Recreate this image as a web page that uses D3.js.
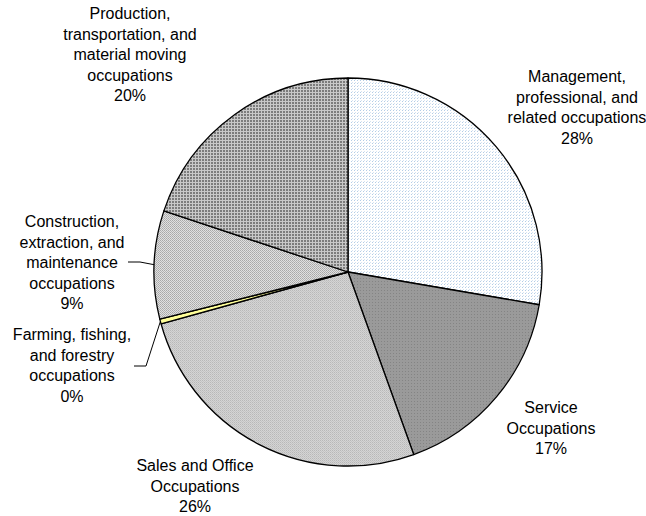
<!DOCTYPE html>
<html>
<head>
<meta charset="utf-8">
<script src="https://cdn.jsdelivr.net/npm/d3@7"></script>
<style>
  body { margin: 0; background: #fff; }
  svg { display: block; }
  text { font-family: "Liberation Sans", Arial, sans-serif; font-size: 16px; fill: #000; }
</style>
</head>
<body>
<svg width="646" height="516"></svg>
<script>
// data (percent of total)
var categories = [
    "Management, professional, and related occupations",
    "Service Occupations",
    "Sales and Office Occupations",
    "Farming, fishing, and forestry occupations",
    "Construction, extraction, and maintenance occupations",
    "Production, transportation, and material moving occupations"
];
var values = [27.7, 16.8, 26.2, 0.4, 9.0, 19.9];
var shownPercent = ["28%", "17%", "26%", "0%", "9%", "20%"];
var labelLines = [
    ["Management,", "professional, and", "related occupations"],
    ["Service", "Occupations"],
    ["Sales and Office", "Occupations"],
    ["Farming, fishing,", "and forestry", "occupations"],
    ["Construction,", "extraction, and", "maintenance", "occupations"],
    ["Production,", "transportation, and", "material moving", "occupations"]
];

// layout (where each label block sits, first baseline)
var labelPos = [
    {x: 577, y: 82},
    {x: 551, y: 413},
    {x: 195, y: 471},
    {x: 72, y: 340},
    {x: 72, y: 227},
    {x: 130, y: 19}
];
// leader lines: elbow and end for the labels that have one
var leaders = [null, null, null,
    {elbow: [146, 366], end: [134, 366]},
    {elbow: [140, 262], end: [128, 262]},
    null];

var svg = d3.select("svg"),
    cx = 348, cy = 272, radius = 194, lineH = 20.5;

// fill patterns, one per slice
var defs = svg.append("defs");

var p0 = defs.append("pattern").attr("id", "pat0").attr("patternUnits", "userSpaceOnUse")
    .attr("width", 3).attr("height", 3);
p0.append("rect").attr("width", 3).attr("height", 3).attr("fill", "#ffffff");
p0.append("rect").attr("width", 1).attr("height", 1).attr("fill", "#b4cde6");
p0.append("rect").attr("x", 1).attr("y", 2).attr("width", 1).attr("height", 1).attr("fill", "#d6e4f2");

var p1 = defs.append("pattern").attr("id", "pat1").attr("patternUnits", "userSpaceOnUse")
    .attr("width", 3).attr("height", 3);
p1.append("rect").attr("width", 3).attr("height", 3).attr("fill", "#9a9a9a");
p1.append("rect").attr("width", 1).attr("height", 1).attr("fill", "#848484");

var p2 = defs.append("pattern").attr("id", "pat2").attr("patternUnits", "userSpaceOnUse")
    .attr("width", 2).attr("height", 2);
p2.append("rect").attr("width", 2).attr("height", 2).attr("fill", "#d4d4d4");
p2.append("rect").attr("width", 1).attr("height", 1).attr("fill", "#b8b8b8");
p2.append("rect").attr("x", 1).attr("y", 1).attr("width", 1).attr("height", 1).attr("fill", "#c4c4c4");

var p4 = defs.append("pattern").attr("id", "pat4").attr("patternUnits", "userSpaceOnUse")
    .attr("width", 2).attr("height", 2);
p4.append("rect").attr("width", 2).attr("height", 2).attr("fill", "#e0e0e0");
p4.append("rect").attr("width", 1).attr("height", 1).attr("fill", "#a8a8a8");
p4.append("rect").attr("x", 1).attr("y", 1).attr("width", 1).attr("height", 1).attr("fill", "#b4b4b4");

var p5 = defs.append("pattern").attr("id", "pat5").attr("patternUnits", "userSpaceOnUse")
    .attr("width", 3).attr("height", 3);
p5.append("rect").attr("width", 3).attr("height", 3).attr("fill", "#7c7c7c");
p5.append("rect").attr("width", 3).attr("height", 1).attr("fill", "#c8c8c8");
p5.append("rect").attr("width", 1).attr("height", 3).attr("fill", "#c8c8c8");

var fills = ["url(#pat0)", "url(#pat1)", "url(#pat2)", "#ffff99", "url(#pat4)", "url(#pat5)"];

var pie = d3.pie().sort(null).value(function (d) { return d; });
var arcs = pie(values);
var arc = d3.arc().innerRadius(0).outerRadius(radius);

var g = svg.append("g").attr("transform", "translate(" + cx + "," + cy + ")");

g.selectAll("path")
    .data(arcs)
    .enter().append("path")
    .attr("d", arc)
    .attr("fill", function (d, i) { return fills[i]; })
    .attr("stroke", "#000")
    .attr("stroke-width", 1.3)
    .attr("stroke-linejoin", "round");

// leader lines start on the rim at the slice's mid angle
arcs.forEach(function (d, i) {
    if (!leaders[i]) return;
    var a = (d.startAngle + d.endAngle) / 2;
    var sx = cx + radius * Math.sin(a), sy = cy - radius * Math.cos(a);
    svg.append("polyline")
        .attr("points", [[sx, sy], leaders[i].elbow, leaders[i].end].map(function (p) { return p.join(","); }).join(" "))
        .attr("fill", "none")
        .attr("stroke", "#000")
        .attr("stroke-width", 1);
});

// labels
categories.forEach(function (c, i) {
    var lines = labelLines[i].concat([shownPercent[i]]);
    var t = svg.append("text")
        .attr("text-anchor", "middle")
        .attr("x", labelPos[i].x)
        .attr("y", labelPos[i].y);
    lines.forEach(function (l, k) {
        t.append("tspan")
            .attr("x", labelPos[i].x)
            .attr("dy", k === 0 ? 0 : lineH)
            .text(l);
    });
});
</script>
</body>
</html>
